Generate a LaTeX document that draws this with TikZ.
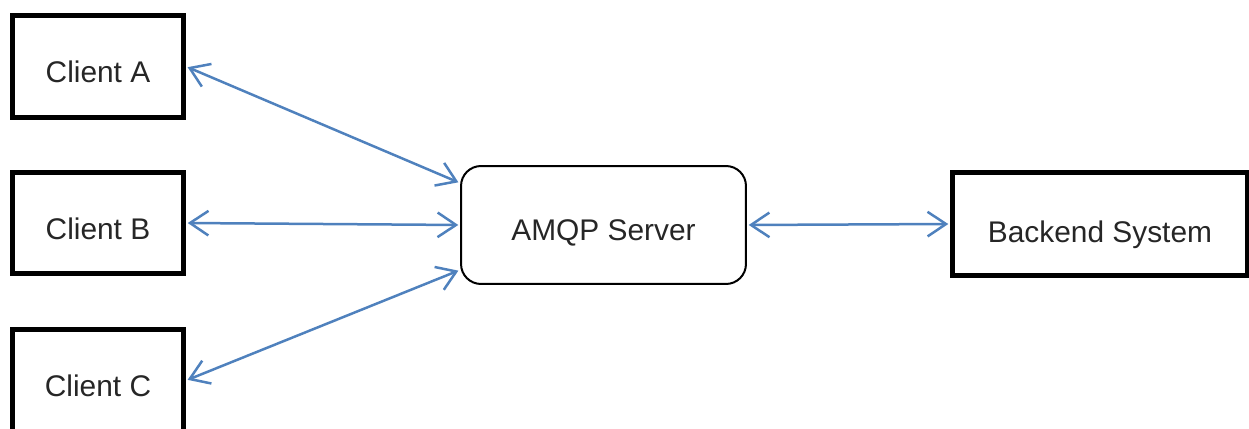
\documentclass[tikz,border=0pt]{standalone}
\usepackage{fontspec}
\setmainfont{Liberation Sans}
\usepackage{tikz}
\usetikzlibrary{arrows.meta , positioning}

\definecolor{linkblue}{HTML}{4F81BD}
\definecolor{textgray}{HTML}{262626}

\begin{document}
\begin{tikzpicture}[x = 0.02cm , y = -0.02cm , >={Straight Barb[length=10.5pt,width=14pt]},
    box/.style = {draw , line width = 0.1cm , minimum width = 3.42cm , minimum height = 2.04cm , inner sep = 0pt , text height = 0.66cm , text depth = 0pt , text = textgray , font = \fontsize{17}{20}\selectfont},
    serverbox/.style = {draw , line width = 0.04cm , rounded corners = 0.4cm , minimum width = 5.7cm , minimum height = 2.36cm , inner sep = 0pt , text height = 0.64cm , text depth = 0pt , text = textgray , font = \fontsize{17}{20}\selectfont},
    link/.style = {linkblue , line width = 0.05cm , <-> , shorten < = 1pt , shorten > = 1pt}]
    \useasboundingbox (0,0) rectangle (1249,429);
    \node[box] (clientA) at (98,66.5) {Client A}; % Πελατης
    \node[box] (clientB) at (98,223) {Client B}; % Πελατης
    \node[box] (clientC) at (98,380.5) {Client C}; % Πελατης
    \node[serverbox] (server) at (603.5,225) {AMQP Server}; % Διακομιστης
    \node[box , minimum width = 5.9cm , minimum height = 2.06cm , text height = 0.76cm] (backend) at (1100,224) {Backend System}; % Συστημα
    \draw[link] (clientA.east) -- ([yshift = 0.84cm]server.west);
    \draw[link] (clientB.east) -- (server.west);
    \draw[link] (clientC.east) -- ([yshift = -0.9cm]server.west);
    \draw[link] (server.east) -- (backend.west);
\end{tikzpicture}
\end{document}
